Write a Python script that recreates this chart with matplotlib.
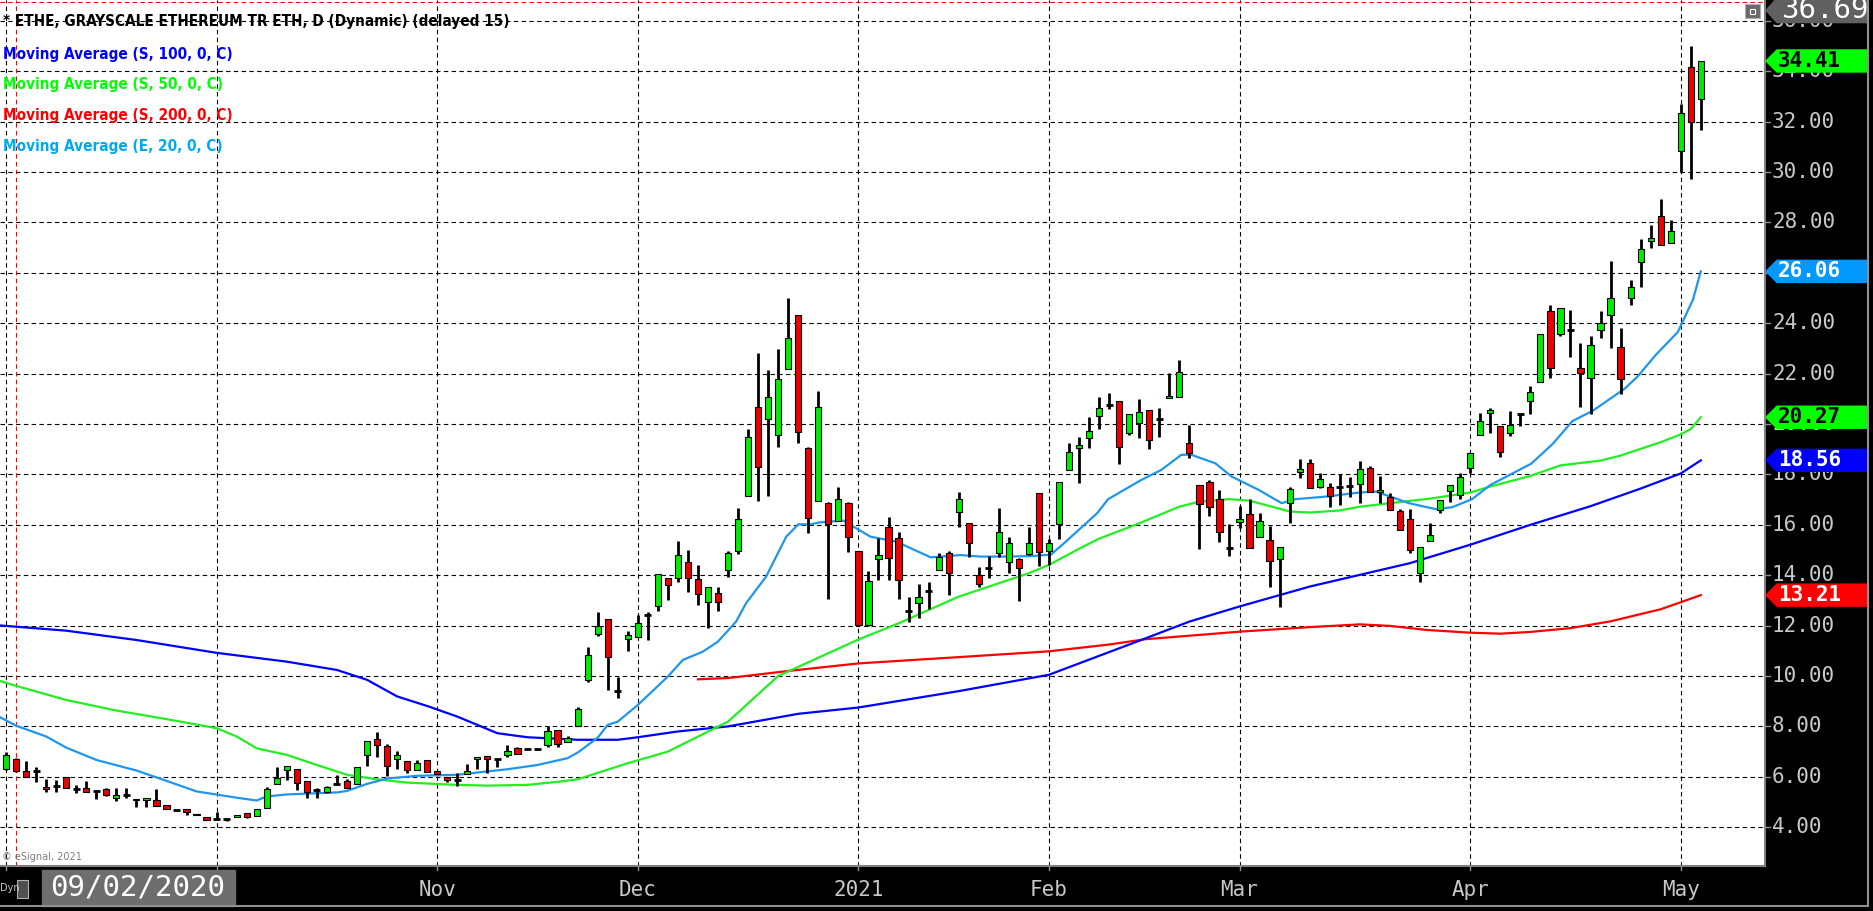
import matplotlib
matplotlib.use("Agg")
import matplotlib.pyplot as plt
import numpy as np
from matplotlib.patches import Rectangle, Polygon
from matplotlib.lines import Line2D

# --- data: daily bars from 01 Sep 2020 (index 0) to 05 May 2021 ---
opens = [6.30, 6.72, 6.25, 6.22, 5.61, 5.65, 6.01, 5.53, 5.55, 5.42,
         5.53, 5.14, 5.26, 5.11, 5.08, 5.08, 4.90, 4.69, 4.74, 4.53,
         4.42, 4.34, 4.32, 4.40, 4.58, 4.45, 4.75, 5.71, 6.28, 6.30,
         5.85, 5.46, 5.38, 5.72, 5.85, 5.72, 6.87, 7.52, 7.23, 6.72,
         6.62, 6.28, 6.65, 6.25, 6.01, 5.88, 6.12, 6.70, 6.82, 6.72,
         6.88, 7.13, 7.12, 7.10, 7.25, 7.84, 7.39, 8.00, 9.85, 11.67,
         12.28, 9.42, 11.46, 11.54, 12.43, 12.78, 13.88, 13.88, 14.52, 13.84,
         12.95, 13.31, 14.21, 14.98, 17.15, 20.69, 20.19, 19.56, 22.17, 24.33,
         19.04, 16.94, 16.85, 16.16, 16.88, 14.98, 12.01, 14.63, 15.90, 15.47,
         12.60, 12.89, 13.39, 14.21, 14.87, 16.50, 16.09, 14.02, 14.28, 14.90,
         14.51, 14.63, 14.84, 17.25, 14.98, 16.04, 18.18, 19.05, 19.44, 20.32,
         20.76, 20.92, 19.66, 20.03, 20.56, 20.20, 21.02, 21.09, 19.24, 17.57,
         17.70, 17.02, 15.10, 16.10, 16.42, 15.53, 15.40, 14.63, 16.86, 18.11,
         18.44, 17.49, 17.49, 17.52, 17.54, 17.62, 18.25, 17.29, 17.12, 16.55,
         16.22, 14.10, 15.35, 16.59, 17.36, 17.19, 18.25, 19.57, 20.43, 19.91,
         19.63, 20.41, 20.91, 21.65, 24.50, 23.58, 23.74, 22.24, 21.82, 23.73,
         24.33, 23.05, 24.99, 26.45, 27.28, 28.26, 27.18, 30.82, 34.18, 32.90]
highs = [6.98, 6.75, 6.62, 6.38, 5.92, 5.88, 6.01, 5.68, 5.84, 5.42,
         5.55, 5.55, 5.55, 5.11, 5.14, 5.51, 4.90, 4.69, 4.74, 4.53,
         4.42, 4.61, 4.32, 4.50, 4.58, 4.71, 5.59, 6.38, 6.41, 6.30,
         5.85, 5.55, 5.65, 6.08, 5.90, 6.38, 7.43, 7.78, 7.31, 7.02,
         6.62, 6.67, 6.65, 6.25, 6.01, 6.17, 6.51, 6.79, 6.82, 6.72,
         7.25, 7.17, 7.12, 7.10, 8.00, 7.84, 7.60, 8.78, 11.14, 12.53,
         12.28, 9.98, 11.79, 12.43, 12.56, 14.04, 13.88, 15.36, 15.00, 14.41,
         13.55, 13.52, 14.98, 16.66, 19.79, 22.81, 22.15, 22.97, 24.99, 24.33,
         19.07, 21.30, 16.90, 17.49, 16.90, 14.98, 14.18, 15.46, 16.30, 15.73,
         13.12, 13.65, 13.75, 14.90, 14.98, 17.30, 16.09, 14.31, 14.77, 16.66,
         15.53, 14.67, 15.90, 17.25, 15.43, 17.72, 19.26, 19.50, 20.27, 21.06,
         21.22, 20.92, 20.40, 20.98, 20.56, 20.63, 22.04, 22.55, 19.97, 17.57,
         17.76, 17.37, 16.02, 16.75, 17.02, 16.46, 15.96, 15.11, 17.49, 18.60,
         18.60, 18.07, 17.68, 18.02, 17.89, 18.52, 18.34, 17.94, 17.25, 16.62,
         16.62, 15.14, 16.06, 16.99, 17.57, 18.05, 18.84, 20.43, 20.63, 19.91,
         20.52, 20.41, 21.51, 23.58, 24.71, 24.61, 24.53, 23.20, 23.48, 24.50,
         26.48, 23.80, 25.70, 27.35, 27.89, 28.95, 28.10, 32.71, 35.02, 34.38]
lows = [6.27, 6.20, 5.98, 5.81, 5.38, 5.38, 5.55, 5.35, 5.39, 5.11,
        5.24, 5.03, 5.14, 4.79, 4.79, 4.85, 4.71, 4.64, 4.48, 4.48,
        4.29, 4.29, 4.24, 4.40, 4.38, 4.45, 4.75, 5.71, 5.88, 5.46,
        5.14, 5.14, 5.35, 5.72, 5.55, 5.72, 6.41, 6.78, 6.04, 6.30,
        6.14, 6.28, 6.20, 6.12, 5.80, 5.64, 6.12, 6.30, 6.14, 6.38,
        6.80, 6.91, 7.12, 7.08, 7.17, 7.17, 7.39, 8.00, 9.78, 11.57,
        9.45, 9.13, 11.01, 11.54, 11.43, 12.60, 13.00, 13.75, 13.35, 12.82,
        11.90, 12.59, 13.92, 14.85, 17.15, 16.96, 17.15, 19.07, 22.17, 19.24,
        15.66, 16.94, 13.05, 16.16, 14.94, 12.00, 12.00, 13.81, 13.81, 13.05,
        12.16, 12.29, 12.65, 14.21, 13.22, 15.90, 14.74, 13.52, 13.88, 14.74,
        14.08, 12.99, 14.80, 14.37, 14.41, 15.43, 18.18, 17.65, 19.04, 19.79,
        20.59, 18.42, 19.57, 19.44, 19.00, 19.48, 21.02, 21.09, 18.64, 15.03,
        16.35, 15.30, 14.78, 15.89, 15.07, 15.53, 13.52, 12.73, 16.09, 17.85,
        17.45, 17.45, 16.72, 16.80, 17.12, 16.88, 17.29, 16.88, 16.59, 15.80,
        14.87, 13.75, 15.35, 16.46, 16.90, 17.04, 18.05, 19.57, 19.64, 18.71,
        19.53, 19.91, 20.41, 21.65, 21.82, 23.51, 22.67, 20.66, 20.38, 23.40,
        23.02, 21.21, 24.74, 25.42, 26.97, 27.11, 27.18, 30.01, 29.72, 31.66]
closes = [6.86, 6.25, 6.01, 6.22, 5.51, 5.65, 5.57, 5.53, 5.39, 5.42,
          5.26, 5.27, 5.26, 5.06, 5.14, 4.85, 4.71, 4.69, 4.61, 4.48,
          4.29, 4.34, 4.32, 4.50, 4.42, 4.71, 5.53, 5.97, 6.41, 5.77,
          5.39, 5.46, 5.61, 5.72, 5.55, 6.38, 7.43, 7.25, 6.43, 6.86,
          6.28, 6.55, 6.20, 6.12, 5.88, 5.88, 6.22, 6.79, 6.70, 6.72,
          7.04, 6.91, 7.12, 7.10, 7.80, 7.29, 7.55, 8.70, 10.85, 11.99,
          10.75, 9.42, 11.63, 12.10, 12.43, 14.04, 13.60, 14.79, 13.88, 13.25,
          13.55, 12.93, 14.90, 16.22, 19.50, 18.28, 21.09, 21.78, 23.40, 19.70,
          16.26, 20.67, 16.03, 17.04, 15.53, 12.01, 13.79, 14.79, 14.67, 13.81,
          12.60, 13.15, 13.39, 14.74, 14.08, 17.04, 15.27, 13.65, 14.28, 15.73,
          15.27, 14.28, 15.27, 14.94, 15.29, 17.72, 18.90, 19.16, 19.71, 20.63,
          20.76, 19.08, 20.40, 20.49, 19.37, 20.20, 21.13, 22.08, 18.84, 16.83,
          16.70, 15.71, 15.10, 16.25, 15.10, 16.14, 14.57, 15.11, 17.41, 18.21,
          17.45, 17.81, 17.16, 17.52, 17.54, 18.21, 17.29, 17.37, 16.59, 15.80,
          15.01, 15.14, 15.59, 16.99, 17.57, 17.89, 18.84, 20.14, 20.56, 18.88,
          19.98, 20.41, 21.26, 23.58, 22.21, 24.61, 23.74, 22.03, 23.12, 24.01,
          25.02, 21.77, 25.45, 26.93, 27.39, 27.11, 27.65, 32.36, 31.98, 34.41]

# moving averages (bar index, value)
ma100_idx = [-1, 6, 13, 21, 28, 33, 36, 39, 42, 45, 47, 49, 52, 57, 61, 63, 67, 72,
             79, 85, 95, 104, 113, 118, 123, 130, 140, 146, 152, 158, 163, 167, 169]
ma100 = [12.02, 11.80, 11.43, 10.92, 10.57, 10.24, 9.85, 9.19, 8.81, 8.39, 8.06, 7.73,
         7.57, 7.47, 7.47, 7.57, 7.80, 8.00, 8.50, 8.75, 9.40, 10.05, 11.40, 12.16,
         12.76, 13.55, 14.48, 15.21, 16.00, 16.74, 17.44, 18.04, 18.56]
ma50_idx = [-1, 1, 6, 11, 16, 21, 23, 25, 28, 31, 34, 37, 40, 45, 48, 52, 55, 57, 62,
            66, 72, 77, 85, 89, 95, 102, 104, 107, 109, 113, 117, 119, 122, 124, 128,
            130, 133, 135, 138, 142, 146, 148, 152, 155, 159, 161, 165, 167, 168, 169]
ma50 = [9.85, 9.61, 9.05, 8.63, 8.29, 7.93, 7.60, 7.13, 6.87, 6.47, 6.08, 5.90, 5.77,
        5.68, 5.65, 5.68, 5.80, 5.90, 6.54, 7.00, 8.19, 10.00, 11.45, 12.09, 13.15,
        14.08, 14.41, 15.05, 15.45, 16.06, 16.72, 16.92, 17.02, 16.96, 16.53, 16.49,
        16.57, 16.72, 16.86, 17.04, 17.28, 17.52, 17.94, 18.36, 18.55, 18.75, 19.28,
        19.59, 19.80, 20.27]
ema20_idx = [-1, 1, 4, 6, 9, 13, 16, 19, 23, 25, 26, 28, 33, 34, 36, 38, 41, 45, 47,
             50, 53, 56, 57, 59, 60, 61, 63, 66, 67.5, 69.5, 71, 72.8, 73.8, 75.8,
             77.8, 79, 80.2, 81.2, 83.5, 84.5, 86.2, 88.8, 92.2, 95.2, 97.2, 99.5,
             102.2, 104.2, 105.5, 108.8, 109.9, 113.2, 115.2, 117.2, 118.2, 120.6,
             122.2, 124.9, 127.2, 128.6, 131.6, 134.9, 136.6, 139.9, 142.6, 144.2,
             146.2, 148, 152.1, 154.2, 156.2, 158.2, 161.4, 162.7, 164.5, 166.7,
             168.2, 169]
ema20 = [8.45, 8.03, 7.60, 7.16, 6.67, 6.25, 5.84, 5.42, 5.17, 5.06, 5.22, 5.30, 5.38,
         5.44, 5.72, 5.93, 6.04, 6.08, 6.17, 6.30, 6.47, 6.74, 6.96, 7.55, 8.06, 8.19,
         8.85, 9.98, 10.64, 10.97, 11.37, 12.16, 12.89, 13.95, 15.53, 16.02, 16.02,
         16.10, 16.17, 15.93, 15.53, 15.33, 14.71, 14.80, 14.74, 14.74, 14.76, 14.82,
         15.27, 16.46, 17.02, 17.78, 18.18, 18.78, 18.78, 18.44, 17.92, 17.39, 16.86,
         17.02, 17.12, 17.28, 17.32, 16.86, 16.62, 16.70, 17.02, 17.58, 18.43, 19.20,
         20.12, 20.52, 21.40, 21.89, 22.74, 23.65, 24.92, 26.06]
ma200_idx = [69, 72, 78, 85, 95, 104, 110, 113.6, 118, 123, 130, 135, 138, 141.6, 146,
             149, 152, 156, 160, 165, 169]
ma200 = [9.87, 9.92, 10.20, 10.50, 10.75, 10.98, 11.25, 11.46, 11.60, 11.76, 11.94,
         12.05, 11.99, 11.83, 11.72, 11.68, 11.75, 11.90, 12.17, 12.65, 13.21]

y_ticks = list(range(4, 37, 2))
month_idx = [0, 21, 43, 63, 85, 104, 123, 146, 167]
month_labels = ["", "Oct", "Nov", "Dec", "2021", "Feb", "Mar", "Apr", "May"]
tag_values = [13.21, 18.56, 20.27, 26.06, 34.41]
tag_colors = ["#FF0000", "#0000FF", "#00FF00", "#0099FF", "#00FF00"]
tag_text = ["white", "white", "black", "white", "black"]
legend_lines = ["Moving Average (S, 100, 0, C)", "Moving Average (S, 50, 0, C)",
                "Moving Average (S, 200, 0, C)", "Moving Average (E, 20, 0, C)"]
legend_colors = ["#0000FF", "#00FF00", "#FF0000", "#00AAEE"]
title = "* ETHE, GRAYSCALE ETHEREUM TR ETH, D (Dynamic) (delayed 15)"
cursor_date = "09/02/2020"
cursor_price = "36.69"

W, H = 1873, 911
fig = plt.figure(figsize=(W / 100, H / 100), dpi=100, facecolor="black")


def fx(x):
    return x / W


def fy(y):
    return 1 - y / H


YLIM = (2.46, 36.83)
XLIM = (-0.6, 175.4)
dash = (0, (4, 3))
mono = "DejaVu Sans Mono"

# main price pane
ax = fig.add_axes([0, fy(866), fx(1765), 866 / H])
ax.set_facecolor("white")
ax.set_xlim(*XLIM)
ax.set_ylim(*YLIM)
ax.set_xticks([])
ax.set_yticks([])
for s in ["top", "left"]:
    ax.spines[s].set_visible(False)
for s in ["right", "bottom"]:
    ax.spines[s].set_color("#808080")
    ax.spines[s].set_linewidth(1.5)

for v in y_ticks:
    ax.axhline(v, color="black", lw=0.8, ls=dash, zorder=1)
for i in month_idx:
    ax.axvline(i, color="black", lw=0.8, ls=dash, zorder=1)

# crosshair
ax.axvline(1, color="red", lw=0.8, ls=dash, zorder=1)
ax.axhline(36.74, color="red", lw=0.8, ls=dash, zorder=1)

ax.plot(ma200_idx, ma200, color="#FF0000", lw=1.6, zorder=2)
ax.plot(ma100_idx, ma100, color="#0000FF", lw=1.6, zorder=2)
ax.plot(ma50_idx, ma50, color="#22EE22", lw=1.6, zorder=2)
ax.plot(ema20_idx, ema20, color="#1E96F0", lw=1.6, zorder=2)

o = np.array(opens)
h = np.array(highs)
l = np.array(lows)
c = np.array(closes)
idx = np.arange(len(c))
up = c > o + 0.02
dn = c < o - 0.02
flat = ~(up | dn)

ax.vlines(idx, l, h, color="black", lw=2.0, zorder=3)
ax.bar(idx[up], (c - o)[up], bottom=o[up], width=0.62, color="#00EE00",
       edgecolor="black", lw=0.8, zorder=4)
ax.bar(idx[dn], (o - c)[dn], bottom=c[dn], width=0.62, color="#EE0000",
       edgecolor="black", lw=0.8, zorder=4)
ax.hlines(o[flat], idx[flat] - 0.35, idx[flat] + 0.35, color="black", lw=2.0, zorder=4)

# legend text (narrow bold face like the original)
fig.text(fx(3), fy(21.5), title, color="black", fontsize=11, fontweight="bold",
         family="DejaVu Sans", fontstretch="condensed", va="center", ha="left")
for k, (txt, col) in enumerate(zip(legend_lines, legend_colors)):
    fig.text(fx(3), fy(54 + 30.7 * k), txt, color=col, fontsize=11,
             fontweight="bold", family="DejaVu Sans", fontstretch="condensed",
             va="center", ha="left")
fig.text(fx(2), fy(857), "© eSignal, 2021", color="#808080", fontsize=7,
         va="center", ha="left")

# right price scale
pax = fig.add_axes([fx(1765), fy(866), fx(108), 866 / H])
pax.set_facecolor("black")
pax.set_xlim(0, 108)
pax.set_ylim(*YLIM)
pax.axis("off")
for v in y_ticks:
    pax.plot([0, 5], [v, v], color="#909090", lw=1)
    pax.text(7, v, f"{v:.2f}", color="#C8C8C8", fontsize=15, family=mono,
             va="center", ha="left")

half = 11 / 25.2
for v, col, tc in zip(tag_values, tag_colors, tag_text):
    pax.add_patch(Polygon([(1, v), (12, v + half), (103, v + half), (103, v - half),
                           (12, v - half)], closed=True, color=col, zorder=5))
    pax.text(13, v, f"{v:.2f}", color=tc, fontsize=15, fontweight="bold",
             family=mono, va="center", ha="left", zorder=6)
cv = 36.42
pax.add_patch(Polygon([(1, cv), (12, cv + half + 0.05), (103, cv + half + 0.05),
                       (103, cv - half - 0.05), (12, cv - half - 0.05)],
                      closed=True, color="#606060", zorder=5))
pax.text(16, cv, cursor_price, color="white", fontsize=21, family=mono,
         va="center", ha="left", zorder=6, clip_on=True)

# bottom date scale
bax = fig.add_axes([0, 0, fx(1765), 45 / H])
bax.set_facecolor("black")
bax.set_xlim(*XLIM)
bax.set_ylim(0, 45)
bax.axis("off")
for i, lab in zip(month_idx, month_labels):
    bax.plot([i, i], [41, 45], color="#909090", lw=1)
    bax.text(i, 21, lab, color="#C8C8C8", fontsize=15, family=mono,
             va="center", ha="center")

# frame lines of the scales
fig.add_artist(Line2D([fx(1868), fx(1868)], [fy(0), fy(906)], color="#909090", lw=1.5))
fig.add_artist(Line2D([0, fx(1868)], [fy(906), fy(906)], color="#909090", lw=1.5))

# cursor date box and small widgets
fig.add_artist(Rectangle((fx(42), fy(906)), fx(193), 36 / H, color="#6E6E6E"))
fig.text(fx(138), fy(888), cursor_date, color="white", fontsize=21, family=mono,
         va="center", ha="center")
fig.text(fx(0), fy(888), "Dyn", color="#C8C8C8", fontsize=7, va="center", ha="left")
fig.add_artist(Rectangle((fx(17), fy(898)), fx(11), 18 / H, facecolor="#505050",
                         edgecolor="#B0B0B0", lw=0.8))
fig.add_artist(Rectangle((fx(1745), fy(18)), fx(15), 14 / H, facecolor="#6A6A6A",
                         edgecolor="#B0B0B0", lw=0.8))
fig.add_artist(Rectangle((fx(1750), fy(14)), fx(5), 5 / H, facecolor="none",
                         edgecolor="white", lw=0.8))

fig.savefig("out.png", dpi=100, facecolor="black")
